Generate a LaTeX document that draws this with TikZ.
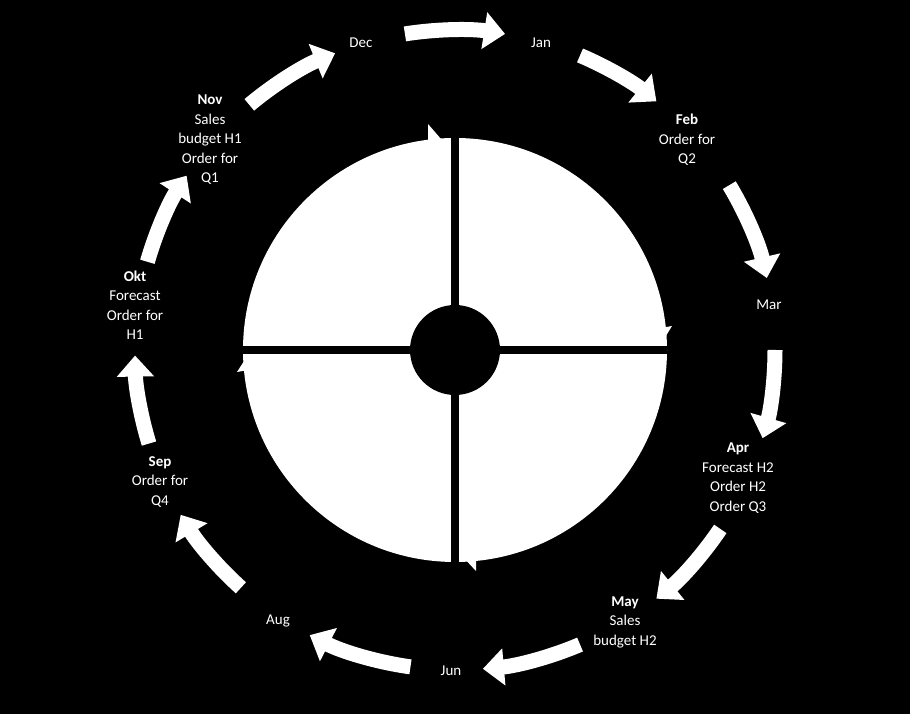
\documentclass[tikz,border=0pt]{standalone}
\usepackage{fontspec}
\setmainfont{Carlito}
\usetikzlibrary{arrows.meta}
\tikzset{month/.style={text=white,align=center,font=\fontsize{15}{19.5}\selectfont,inner sep=1pt}}
\tikzset{cyc/.style={white,line width=15pt,-{Triangle[width=36pt,length=21pt]}}}
\begin{document}
\begin{tikzpicture}[x=1pt,y=1pt]
  \fill[black] (0,0) rectangle (910,714);
  \useasboundingbox (0,0) rectangle (910,714);
  \coordinate (c) at (455,364);

  % inner disk split in four
  \fill[white] (c) circle (212);
  \fill[black] ([xshift=-4]c|-0,140) rectangle ([xshift=4]c|-0,590);
  \fill[black] (243,360) rectangle (667,368);
  \fill[black] (c) circle (45);
  \fill[white] (428,590) -- (441,575) -- (428,568) -- cycle;
  \fill[white] (672,388) -- (650,384) -- (661,370) -- cycle;
  \fill[white] (476,143) -- (462,158) -- (476,164) -- cycle;
  \fill[white] (237,342) -- (260,346) -- (248,359) -- cycle;

  % months
  \node[month] (dec) at (361,671) {Dec};
  \node[month] (jan) at (541,671) {Jan};
  \node[month] (feb) at (687,574) {\textbf{Feb}\\Order for\\Q2};
  \node[month] (mar) at (769,409) {Mar};
  \node[month] (apr) at (738,236) {\textbf{Apr}\\Forecast H2\\Order H2\\Order Q3};
  \node[month] (may) at (625,92) {\textbf{May}\\Sales\\budget H2};
  \node[month] (jun) at (451,43) {Jun};
  \node[month] (aug) at (278,93) {Aug};
  \node[month] (sep) at (160,232) {\textbf{Sep}\\Order for\\Q4};
  \node[month] (okt) at (135,409) {\textbf{Okt}\\Forecast\\Order for\\H1};
  \node[month] (nov) at (210,574) {\textbf{Nov}\\Sales\\budget H1\\Order for\\Q1};

  % cycle arrows
  \foreach \a/\b in {99/81, 67/51, 31/13, 0/-16, -34/-51, -67/-85,
                     -98/-117, -132/-149, -163/-179, 164/147, 130/112}
    \draw[cyc] ([shift={(\a:320)}]c) arc (\a:\b:320);
\end{tikzpicture}
\end{document}
